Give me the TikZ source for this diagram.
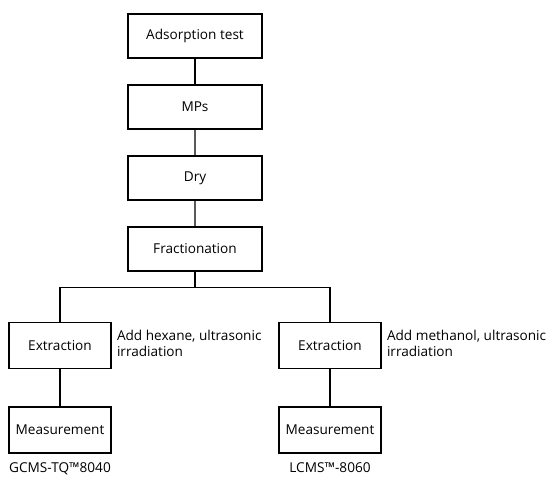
\documentclass[tikz,border=0pt]{standalone}
\usepackage{fontspec}
\setmainfont{Open Sans}
\begin{document}
\begin{tikzpicture}[x=1pt, y=1pt, level distance=71pt,
  every node/.style = {font=\fontsize{13.6}{16}\selectfont},
  box/.style = {draw, line width=1.7pt, minimum width=134pt, minimum height=44pt},
  smallbox/.style = {box, minimum width=102pt, minimum height=46pt},
  note/.style = {inner sep=0pt, align=left, anchor=north west},
  every label/.style = {inner sep=1pt},
  edge from parent/.style = {draw, line width=1.1pt},
  level 4/.style = {level distance=96.5pt, sibling distance=270pt,
    edge from parent path = {(\tikzparentnode.south) -- ++(0,-16) -| (\tikzchildnode.north)}},
  level 5/.style = {level distance=84.5pt}]
  \useasboundingbox (0,0) rectangle (555,-480);
  \node[box] (adsorb) at (195,-36) {Adsorption test}
    child { node[box] (mps) {MPs}
      child { node[box] (dry) {Dry}
        child { node[box] (fract) {Fractionation}
          child { node[smallbox] (extl) {Extraction}
            child { node[smallbox, label={[label distance=8pt]below:GCMS-TQ™8040}] (measl) {Measurement} } }
          child { node[smallbox] (extr) {Extraction}
            child { node[smallbox, label={[label distance=8pt]below:LCMS™-8060}] (measr) {Measurement} } } } } };
  % side notes
  \node[note] (hexane) at ([xshift=5pt, yshift=-8pt]extl.north east) {Add hexane, ultrasonic\\irradiation};
  \node[note] (methanol) at ([xshift=5pt, yshift=-8pt]extr.north east) {Add methanol, ultrasonic\\irradiation};
\end{tikzpicture}
\end{document}
